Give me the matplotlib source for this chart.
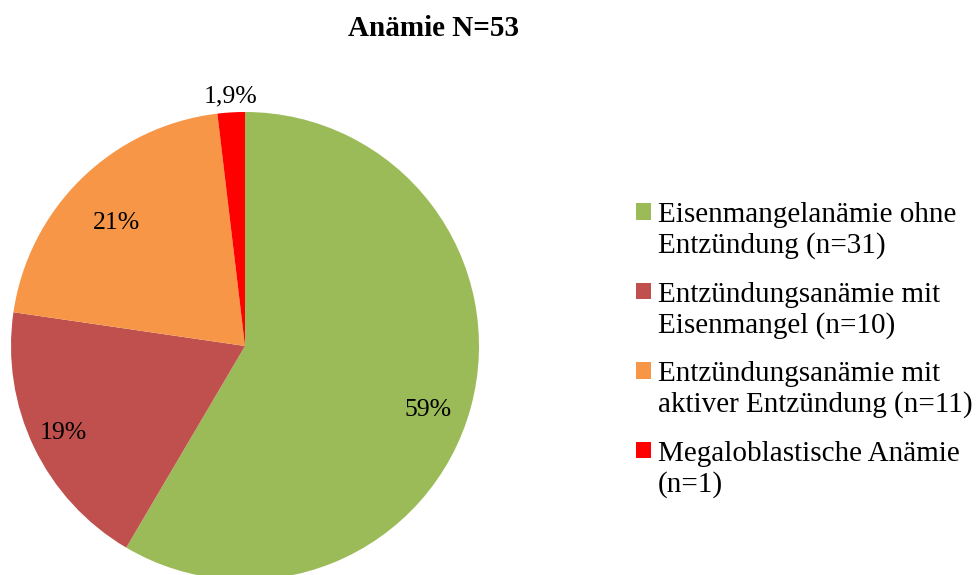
import matplotlib
matplotlib.use("Agg")
import matplotlib.pyplot as plt
from matplotlib.patches import Rectangle
from matplotlib.legend_handler import HandlerPatch
import numpy as np

plt.rcParams['font.family'] = ['Liberation Serif', 'DejaVu Serif']

title = "Anämie N=53"
categories = [
    "Eisenmangelanämie ohne\nEntzündung (n=31)",
    "Entzündungsanämie mit\nEisenmangel (n=10)",
    "Entzündungsanämie mit\naktiver Entzündung (n=11)",
    "Megaloblastische Anämie\n(n=1)",
]
counts = [31, 10, 11, 1]
percent_values = [59, 19, 21, 1.9]
colors = ["#9BBB59", "#C0504D", "#F79646", "#FF0000"]

W, H = 979, 575
fig = plt.figure(figsize=(W / 100, H / 100), dpi=100)
ax = fig.add_axes([0, 0, 1, 1])
R = 234.0
cx, cy = 245.0, H - 346.0

wedges, _ = ax.pie(percent_values, colors=colors, startangle=90, counterclock=False,
                   radius=1.0, center=(0, 0), frame=True,
                   wedgeprops=dict(linewidth=0))
ax.set_xlim(-cx / R, (W - cx) / R)
ax.set_ylim(-cy / R, (H - cy) / R)
ax.set_aspect('equal')
ax.axis('off')

# label placement (distance from centre, angular shift in degrees)
dists = [0.83, 0.86, 0.76, 1.07]
shifts = [-4.0, 0.0, 2.0, 0.0]
for w, p, d, s in zip(wedges, percent_values, dists, shifts):
    if p < 10:
        lab = f"{p:.1f}".replace(".", ",") + "%"
    else:
        lab = f"{p:.0f}%"
    ang = np.deg2rad((w.theta1 + w.theta2) / 2 + s)
    ax.text(d * np.cos(ang), d * np.sin(ang), lab, ha='center', va='center',
            fontsize=18.5)

fig.text(434 / W, 1 - 28 / H, title, ha='center', va='center',
         fontsize=21, fontweight='bold')


def top_patch(legend, orig_handle, xdescent, ydescent, width, height, fontsize):
    return Rectangle((-xdescent, -ydescent + 0.64 * fontsize), width, height)


leg = fig.legend(wedges, categories, loc='upper left',
                 bbox_to_anchor=(636 / W, 1 - 202 / H),
                 frameon=False, fontsize=21, handlelength=0.5,
                 handleheight=0.5, handletextpad=0.25, labelspacing=0.77,
                 borderpad=0, borderaxespad=0,
                 handler_map={matplotlib.patches.Wedge: HandlerPatch(patch_func=top_patch)})
for t in leg.get_texts():
    t.set_linespacing(1.2)

fig.savefig("out.png", dpi=100)
